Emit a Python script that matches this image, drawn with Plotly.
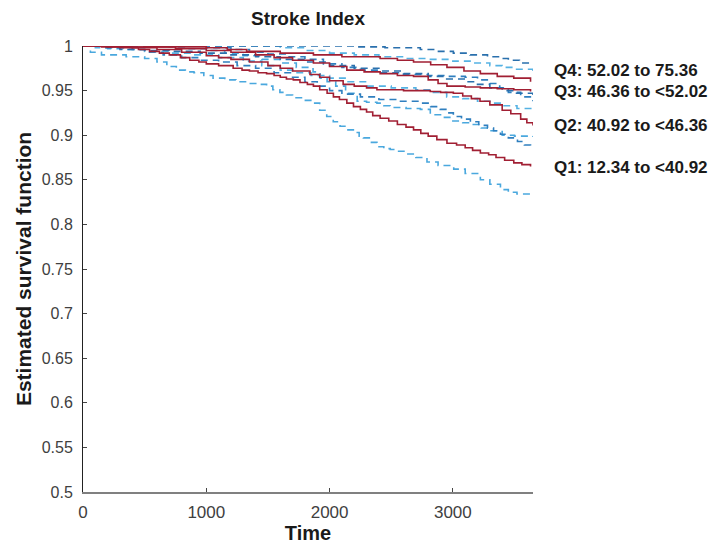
import plotly.graph_objects as go

# ---- data ----
q_labels = ["Q1: 12.34 to <40.92", "Q2: 40.92 to <46.36",
            "Q3: 46.36 to <52.02", "Q4: 52.02 to 75.36"]

q1_t = [0, 150, 300, 450, 540, 620, 700, 790, 866, 940, 1000, 1100, 1218, 1290, 1350, 1420, 1489, 1550, 1600, 1650, 1706, 1760, 1820, 1869, 1920, 1980, 2031, 2080, 2140, 2194, 2250, 2300, 2350, 2410, 2480, 2550, 2620, 2681, 2740, 2800, 2870, 2952, 3030, 3100, 3160, 3223, 3290, 3350, 3420, 3494, 3560, 3630]
q1_s = [1.0, 0.999, 0.998, 0.996, 0.994, 0.992, 0.990, 0.987, 0.984, 0.982, 0.980, 0.978, 0.975, 0.973, 0.972, 0.970, 0.969, 0.967, 0.965, 0.963, 0.962, 0.959, 0.957, 0.955, 0.951, 0.947, 0.943, 0.940, 0.936, 0.932, 0.929, 0.926, 0.922, 0.919, 0.916, 0.912, 0.909, 0.906, 0.902, 0.899, 0.895, 0.891, 0.889, 0.886, 0.883, 0.880, 0.878, 0.875, 0.872, 0.869, 0.867, 0.865]
q1_lo_t = [0, 60, 150, 350, 500, 600, 680, 757, 830, 900, 980, 1055, 1150, 1240, 1327, 1410, 1489, 1540, 1597, 1650, 1700, 1780, 1869, 1920, 1977, 2030, 2085, 2140, 2193, 2240, 2274, 2330, 2384, 2440, 2492, 2560, 2628, 2700, 2790, 2880, 3007, 3100, 3223, 3300, 3386, 3450, 3520, 3650]
q1_lo_s = [1.0, 0.993, 0.990, 0.988, 0.986, 0.982, 0.977, 0.973, 0.971, 0.970, 0.967, 0.964, 0.962, 0.960, 0.958, 0.957, 0.955, 0.951, 0.948, 0.945, 0.942, 0.939, 0.936, 0.928, 0.921, 0.915, 0.910, 0.906, 0.903, 0.899, 0.897, 0.892, 0.887, 0.885, 0.884, 0.882, 0.879, 0.875, 0.870, 0.866, 0.862, 0.857, 0.850, 0.845, 0.839, 0.836, 0.834, 0.833]
q1_hi_t = [0, 500, 700, 850, 1000, 1150, 1300, 1450, 1600, 1730, 1866, 1923, 1980, 2050, 2130, 2224, 2300, 2384, 2440, 2492, 2620, 2736, 2817, 2900, 3000, 3080, 3150, 3230, 3300, 3400, 3500, 3650]
q1_hi_s = [1.0, 1.0, 0.999, 0.997, 0.995, 0.992, 0.989, 0.985, 0.981, 0.976, 0.971, 0.964, 0.960, 0.955, 0.947, 0.938, 0.937, 0.936, 0.933, 0.931, 0.930, 0.929, 0.923, 0.920, 0.916, 0.914, 0.912, 0.908, 0.905, 0.900, 0.899, 0.898]

q2_t = [0, 200, 400, 600, 800, 1000, 1100, 1200, 1350, 1500, 1600, 1700, 1841, 1920, 2000, 2110, 2200, 2300, 2384, 2600, 2817, 2900, 3004, 3080, 3150, 3220, 3300, 3400, 3470, 3550, 3600, 3650]
q2_s = [1.0, 0.999, 0.998, 0.996, 0.993, 0.989, 0.987, 0.985, 0.982, 0.978, 0.975, 0.972, 0.968, 0.965, 0.961, 0.957, 0.955, 0.953, 0.951, 0.950, 0.949, 0.948, 0.947, 0.944, 0.941, 0.938, 0.934, 0.928, 0.924, 0.918, 0.914, 0.911]
q2_lo_t = [0, 150, 300, 400, 500, 650, 800, 950, 1100, 1250, 1400, 1550, 1700, 1800, 1900, 2000, 2100, 2250, 2400, 2550, 2736, 2820, 2898, 2950, 3004, 3070, 3142, 3210, 3281, 3330, 3386, 3450, 3524, 3580, 3630]
q2_lo_s = [1.0, 0.999, 0.998, 0.996, 0.993, 0.990, 0.987, 0.984, 0.982, 0.978, 0.975, 0.970, 0.965, 0.960, 0.955, 0.950, 0.946, 0.943, 0.940, 0.938, 0.936, 0.932, 0.929, 0.925, 0.921, 0.918, 0.915, 0.911, 0.908, 0.905, 0.901, 0.897, 0.893, 0.889, 0.884]
q2_hi_t = [0, 800, 1000, 1200, 1350, 1500, 1650, 1800, 1950, 2100, 2250, 2400, 2600, 2800, 2950, 3100, 3200, 3300, 3380, 3450, 3550, 3650]
q2_hi_s = [1.0, 1.0, 0.998, 0.996, 0.993, 0.991, 0.988, 0.985, 0.980, 0.976, 0.973, 0.970, 0.968, 0.967, 0.966, 0.965, 0.962, 0.958, 0.953, 0.948, 0.943, 0.938]

q3_t = [0, 250, 500, 750, 1000, 1200, 1400, 1550, 1700, 1869, 2000, 2140, 2280, 2410, 2550, 2681, 2800, 2880, 2952, 3100, 3223, 3360, 3494, 3630]
q3_s = [1.0, 1.0, 0.999, 0.997, 0.995, 0.993, 0.990, 0.987, 0.984, 0.981, 0.977, 0.973, 0.971, 0.969, 0.967, 0.966, 0.962, 0.958, 0.955, 0.954, 0.953, 0.952, 0.951, 0.949]
q3_lo_t = [0, 100, 200, 350, 500, 700, 900, 1100, 1300, 1450, 1600, 1700, 1850, 2000, 2150, 2300, 2500, 2700, 2830, 2950, 3080, 3200, 3300, 3400, 3520, 3650]
q3_lo_s = [1.0, 0.998, 0.997, 0.996, 0.994, 0.992, 0.990, 0.987, 0.983, 0.978, 0.973, 0.970, 0.967, 0.964, 0.960, 0.955, 0.953, 0.951, 0.948, 0.943, 0.941, 0.938, 0.936, 0.933, 0.930, 0.928]
q3_hi_t = [0, 1400, 1600, 1800, 2000, 2200, 2400, 2600, 2800, 3000, 3150, 3300, 3400, 3500, 3650]
q3_hi_s = [1.0, 1.0, 0.998, 0.995, 0.992, 0.990, 0.988, 0.986, 0.985, 0.983, 0.981, 0.978, 0.976, 0.974, 0.970]

q4_t = [0, 500, 1000, 1170, 1327, 1600, 1869, 2100, 2410, 2550, 2681, 2820, 2952, 3090, 3223, 3360, 3494, 3630]
q4_s = [1.0, 0.999, 0.998, 0.996, 0.994, 0.992, 0.990, 0.988, 0.986, 0.984, 0.982, 0.979, 0.976, 0.972, 0.969, 0.966, 0.964, 0.960]
q4_lo_t = [0, 150, 300, 500, 700, 950, 1200, 1400, 1600, 1800, 2000, 2200, 2400, 2600, 2800, 2950, 3100, 3200, 3300, 3400, 3500, 3650]
q4_lo_s = [1.0, 0.998, 0.996, 0.995, 0.994, 0.992, 0.990, 0.988, 0.985, 0.982, 0.978, 0.975, 0.972, 0.969, 0.966, 0.963, 0.960, 0.957, 0.953, 0.950, 0.947, 0.942]
q4_hi_t = [0, 2000, 2200, 2450, 2736, 2870, 3004, 3140, 3281, 3370, 3450, 3540, 3630]
q4_hi_s = [1.0, 1.0, 0.999, 0.998, 0.996, 0.994, 0.992, 0.990, 0.988, 0.986, 0.984, 0.981, 0.979]

y_ticks = [0.5, 0.55, 0.6, 0.65, 0.7, 0.75, 0.8, 0.85, 0.9, 0.95, 1.0]
y_tick_text = ["0.5", "0.55", "0.6", "0.65", "0.7", "0.75", "0.8", "0.85", "0.9", "0.95", "1"]
x_ticks = [0, 1000, 2000, 3000]

# ---- figure ----
RED = "#a11f33"
BLUES = ["#4aa8de", "#2f7fbf", "#55b2e3", "#2a70ad"]
FONT = "Liberation Sans, Arial, sans-serif"

groups = [
    (q1_t, q1_s, q1_lo_t, q1_lo_s, q1_hi_t, q1_hi_s),
    (q2_t, q2_s, q2_lo_t, q2_lo_s, q2_hi_t, q2_hi_s),
    (q3_t, q3_s, q3_lo_t, q3_lo_s, q3_hi_t, q3_hi_s),
    (q4_t, q4_s, q4_lo_t, q4_lo_s, q4_hi_t, q4_hi_s),
]

fig = go.Figure()
for i, (t, s, lt, ls, ht, hs) in enumerate(groups):
    for xx, yy in ((lt, ls), (ht, hs)):
        fig.add_trace(go.Scatter(x=xx, y=yy, mode="lines", line_shape="hv",
                                 line=dict(color=BLUES[i], width=1.6, dash="7px,5px"),
                                 showlegend=False, hoverinfo="skip"))
for i, (t, s, lt, ls, ht, hs) in enumerate(groups):
    fig.add_trace(go.Scatter(x=t, y=s, mode="lines", line_shape="hv",
                             line=dict(color=RED, width=1.6),
                             name=q_labels[i], showlegend=False))

label_y = [0.728, 0.821, 0.897, 0.946]
for i, lab in enumerate(q_labels):
    fig.add_annotation(x=1.042, y=label_y[i], xref="paper", yref="paper",
                       text="<b>" + lab + "</b>", showarrow=False,
                       xanchor="left", yanchor="middle",
                       font=dict(size=17, color="#1a1a1a", family=FONT))

fig.update_layout(
    width=721, height=551,
    margin=dict(l=83, r=188, t=46, b=57),
    paper_bgcolor="white", plot_bgcolor="white",
    font=dict(family=FONT, size=17, color="#404040"),
    title=dict(text="<b>Stroke Index</b>", x=0.5, xref="paper", xanchor="center",
               y=1 - 18 / 551, yref="container", yanchor="middle",
               font=dict(size=19, color="#1a1a1a")),
    showlegend=False,
)
fig.update_xaxes(range=[0, 3650], tickvals=x_ticks, ticks="inside", ticklen=4,
                 tickcolor="#444", showgrid=False, zeroline=False,
                 showline=True, linecolor="#808080", linewidth=2,
                 ticklabelstandoff=4,
                 title=dict(text="<b>Time</b>", font=dict(size=20, color="#1a1a1a"), standoff=3),
                 tickfont=dict(size=17))
fig.update_yaxes(range=[0.5, 1.0], tickvals=y_ticks, ticktext=y_tick_text,
                 ticks="inside", ticklen=4, tickcolor="#444", showgrid=False,
                 zeroline=False, showline=True, linecolor="#222", linewidth=1,
                 ticklabelstandoff=6,
                 title=dict(text="<b>Estimated survival function</b>",
                            font=dict(size=21, color="#1a1a1a"), standoff=4),
                 tickfont=dict(size=16))

fig.write_html("out.html")
